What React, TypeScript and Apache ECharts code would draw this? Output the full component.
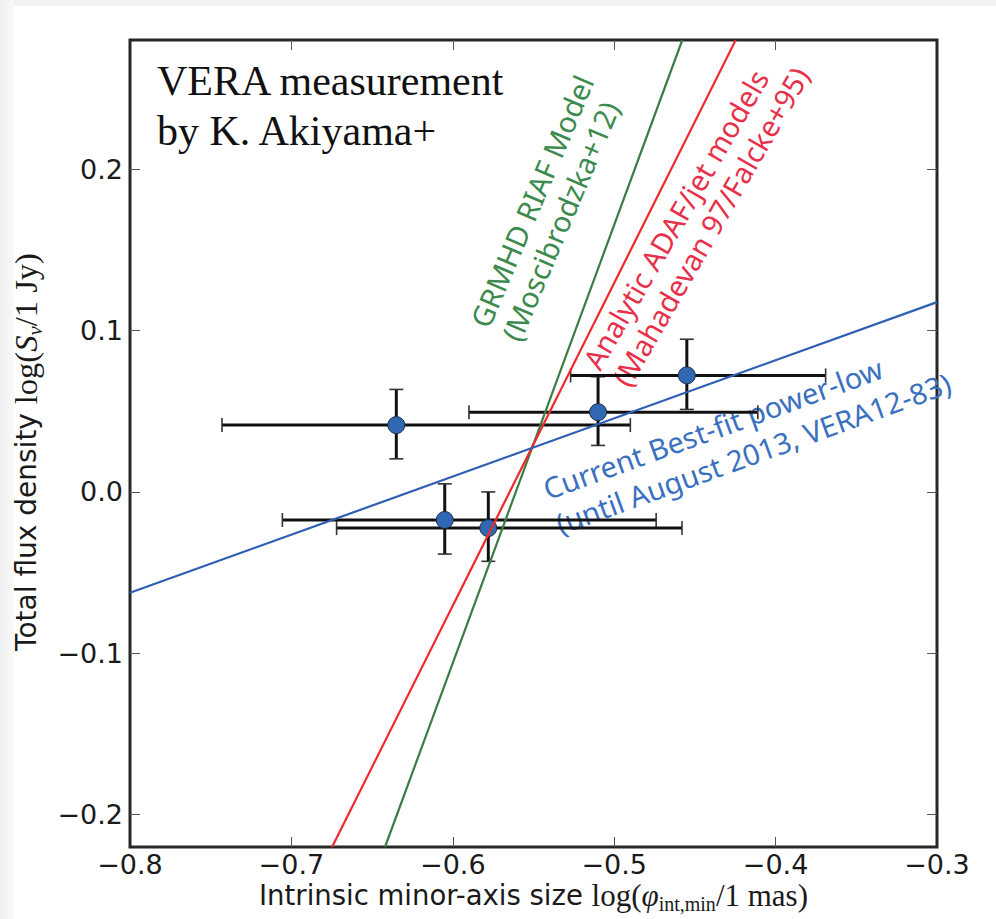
import React, { useEffect, useRef } from 'react';
import * as echarts from 'echarts';

// Axis ticks
const xTicks = [-0.8, -0.7, -0.6, -0.5, -0.4, -0.3];
const xInnerTicks = [-0.7, -0.6, -0.5, -0.4];
const yTicks = [-0.2, -0.1, 0.0, 0.1, 0.2];

// VERA measurements (log values)
const pointX = [-0.635, -0.605, -0.578, -0.510, -0.455];
const pointY = [0.0414, -0.0174, -0.0224, 0.0494, 0.0722];
const xErrLow = [-0.743, -0.7056, -0.672, -0.590, -0.527];
const xErrHigh = [-0.490, -0.474, -0.458, -0.411, -0.369];
const yErrLow = [0.0205, -0.0385, -0.043, 0.0288, 0.0511];
const yErrHigh = [0.0635, 0.005, 0.0, 0.0714, 0.0946];

// Model lines (endpoints)
const blueLine = [[-0.8, -0.0625], [-0.3, 0.1176]];
const redLine = [[-0.6748, -0.22], [-0.4247, 0.28]];
const greenLine = [[-0.642, -0.22], [-0.4578, 0.28]];

const GREEN = '#3a7d44';
const RED = '#ee2b2b';
const BLUE = '#2f5fb3';

export default function App() {
  const ref = useRef<HTMLDivElement>(null);
  useEffect(() => {
    const chart = echarts.init(ref.current as HTMLDivElement, null, { renderer: 'svg' });
    const fmt = (v: number) => (Math.abs(v) < 1e-9 ? '0.0' : v.toFixed(1).replace('-', '\u2212'));
    const errData = pointX.map((x, i) => [x, pointY[i], xErrLow[i], xErrHigh[i], yErrLow[i], yErrHigh[i]]);

    const ANN = 29;
    const annFam = '"Noto Sans", sans-serif';
    const annot = (x: number, y: number, deg: number, spacing: number, l1: string, l2: string, color: string) => ({
      type: 'group',
      x,
      y,
      rotation: (deg * Math.PI) / 180,
      z: 100,
      children: [
        { type: 'text', x: 0, y: -0.388 * ANN, style: { text: l1, fontSize: ANN, fontFamily: annFam, fill: color, align: 'left', verticalAlign: 'middle' } },
        { type: 'text', x: 0, y: spacing - 0.388 * ANN, style: { text: l2, fontSize: ANN, fontFamily: annFam, fill: color, align: 'left', verticalAlign: 'middle' } },
      ],
    });

    const serif = '"Liberation Serif", "Times New Roman", serif';
    const sans = '"DejaVu Sans", sans-serif';
    const ink = '#1a1a1a';
    const mkRich = (sansSize: number, serifSize: number, subSize: number) => ({
      a: { fontFamily: sans, fontSize: sansSize, fill: ink, height: 20, lineHeight: 20, verticalAlign: 'bottom' },
      m: { fontFamily: serif, fontSize: serifSize, fill: ink, height: 20, lineHeight: 20, verticalAlign: 'bottom' },
      i: { fontFamily: serif, fontStyle: 'italic', fontSize: serifSize, fill: ink, height: 20, lineHeight: 20, verticalAlign: 'bottom' },
      s: { fontFamily: serif, fontSize: subSize, fill: ink, height: 2, lineHeight: 20, verticalAlign: 'bottom' },
      si: { fontFamily: serif, fontStyle: 'italic', fontSize: subSize, fill: ink, height: 2, lineHeight: 20, verticalAlign: 'bottom' },
    });

    const tickStyle = { color: '#555', width: 1 };
    const labelStyle = { fontFamily: sans, fontSize: 27, color: ink, lineHeight: 22 };
    const option: any = {
      animation: false,
      backgroundColor: '#ffffff',
      grid: { left: 130, right: 59, top: 40, bottom: 72, show: true, borderColor: '#262626', borderWidth: 3, backgroundColor: 'transparent' },
      xAxis: [
        {
          type: 'value', min: -0.8, max: -0.3, position: 'bottom',
          axisLine: { show: false, onZero: false }, splitLine: { show: false },
          axisTick: { inside: true, length: 10, lineStyle: tickStyle, customValues: xInnerTicks },
          axisLabel: { customValues: xTicks, formatter: fmt, margin: 6, ...labelStyle },
        },
        {
          type: 'value', min: -0.8, max: -0.3, position: 'top',
          axisLine: { show: false, onZero: false }, splitLine: { show: false },
          axisTick: { inside: true, length: 10, lineStyle: tickStyle, customValues: xInnerTicks },
          axisLabel: { show: false },
        },
      ],
      yAxis: [
        {
          type: 'value', min: -0.22, max: 0.28, position: 'left',
          axisLine: { show: false, onZero: false }, splitLine: { show: false },
          axisTick: { inside: true, length: 10, lineStyle: tickStyle, customValues: yTicks },
          axisLabel: { customValues: yTicks, formatter: fmt, margin: 7, ...labelStyle },
        },
        {
          type: 'value', min: -0.22, max: 0.28, position: 'right',
          axisLine: { show: false, onZero: false }, splitLine: { show: false },
          axisTick: { inside: true, length: 10, lineStyle: tickStyle, customValues: yTicks },
          axisLabel: { show: false },
        },
      ],
      series: [
        {
          type: 'custom',
          z: 2,
          silent: true,
          data: errData,
          encode: { x: 0, y: 1 },
          renderItem: (params: any, api: any) => {
            const x = api.value(0), y = api.value(1);
            const pl = api.coord([api.value(2), y]);
            const ph = api.coord([api.value(3), y]);
            const pb = api.coord([x, api.value(4)]);
            const pt = api.coord([x, api.value(5)]);
            const cap = 7;
            const bar = { stroke: '#111', lineWidth: 3 };
            const capS = { stroke: '#333', lineWidth: 1.6 };
            return {
              type: 'group',
              children: [
                { type: 'line', shape: { x1: pl[0], y1: pl[1], x2: ph[0], y2: ph[1] }, style: bar },
                { type: 'line', shape: { x1: pb[0], y1: pb[1], x2: pt[0], y2: pt[1] }, style: bar },
                { type: 'line', shape: { x1: pl[0], y1: pl[1] - cap, x2: pl[0], y2: pl[1] + cap }, style: capS },
                { type: 'line', shape: { x1: ph[0], y1: ph[1] - cap, x2: ph[0], y2: ph[1] + cap }, style: capS },
                { type: 'line', shape: { x1: pb[0] - cap, y1: pb[1], x2: pb[0] + cap, y2: pb[1] }, style: capS },
                { type: 'line', shape: { x1: pt[0] - cap, y1: pt[1], x2: pt[0] + cap, y2: pt[1] }, style: capS },
              ],
            };
          },
        },
        {
          type: 'scatter',
          z: 3,
          silent: true,
          symbol: 'circle',
          symbolSize: 17,
          itemStyle: { color: '#3068b4', borderColor: '#1c2c44', borderWidth: 1, opacity: 1 },
          data: pointX.map((x, i) => [x, pointY[i]]),
        },
        { type: 'line', z: 4, silent: true, showSymbol: false, data: greenLine, lineStyle: { color: GREEN, width: 2.2 } },
        { type: 'line', z: 4, silent: true, showSymbol: false, data: redLine, lineStyle: { color: RED, width: 2.2 } },
        { type: 'line', z: 4, silent: true, showSymbol: false, data: blueLine, lineStyle: { color: BLUE, width: 2.2 } },
      ],
      graphic: [
        { type: 'rect', z: -10, shape: { x: 0, y: 0, width: 996, height: 6 }, style: { fill: '#f2f2f2' } },
        {
          type: 'rect', z: -10, shape: { x: 0, y: 0, width: 14, height: 919 },
          style: { fill: new echarts.graphic.LinearGradient(0, 0, 1, 0, [{ offset: 0, color: '#eeeeee' }, { offset: 1, color: '#fafafa' }]) },
        },
        { type: 'text', z: 100, x: 157, y: 95 - 0.3375 * 42, style: { text: 'VERA measurement', fontSize: 42, fontFamily: serif, fill: '#111', align: 'left', verticalAlign: 'middle' } },
        { type: 'text', z: 100, x: 157, y: 145 - 0.3375 * 42, style: { text: 'by K. Akiyama+', fontSize: 42, fontFamily: serif, fill: '#111', align: 'left', verticalAlign: 'middle' } },
        annot(489, 330, 67, 34, 'GRMHD RIAF Model', '(Moscibrodzka+12)', '#3c8a4e'),
        annot(600, 372, 60, 34, 'Analytic ADAF/jet models', '(Mahadevan 97/Falcke+95)', '#e8304a'),
        annot(548, 500, 20, 37, 'Current Best-fit power-low', '(until August 2013, VERA12-83)', '#3a70c0'),
        {
          type: 'text', z: 100, x: 533.5, y: 905,
          style: {
            text: '{a|Intrinsic minor-axis size }{m|log(}{i|φ}{s|int,min}{m|/1 mas)}',
            rich: mkRich(27.5, 31, 20), align: 'center', verticalAlign: 'bottom',
          },
        },
        {
          type: 'text', z: 100, x: 36, y: 452, rotation: Math.PI / 2,
          style: {
            text: '{a|Total flux density }{m|log(}{i|S}{si|ν}{m|/1 Jy)}',
            rich: mkRich(28, 32.5, 21), align: 'center', verticalAlign: 'bottom',
          },
        },
      ],
    };
    chart.setOption(option);
    return () => chart.dispose();
  }, []);
  return <div ref={ref} style={{ position: 'fixed', left: 0, top: 0, width: 996, height: 919 }} />;
}
